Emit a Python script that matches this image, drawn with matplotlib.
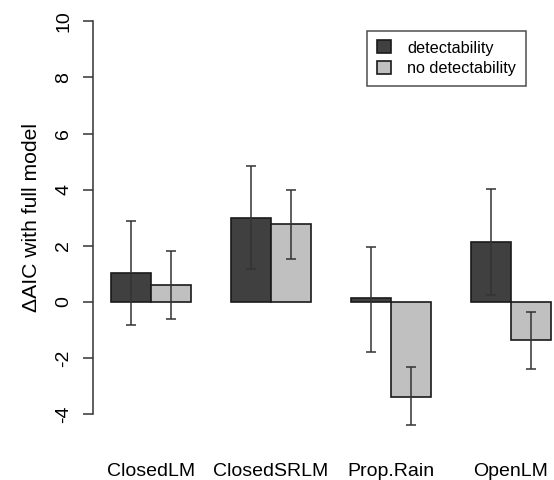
import matplotlib
matplotlib.use("Agg")
import matplotlib.pyplot as plt
import numpy as np

plt.rcParams['font.family'] = ['Liberation Sans', 'DejaVu Sans']

categories = ["ClosedLM", "ClosedSRLM", "Prop.Rain", "OpenLM"]
series_names = ["detectability", "no detectability"]
det_vals = [1.02, 2.97, 0.13, 2.12]
det_lo = [-0.82, 1.17, -1.78, 0.25]
det_hi = [2.89, 4.84, 1.97, 4.01]
nodet_vals = [0.61, 2.76, -3.38, -1.36]
nodet_lo = [-0.62, 1.51, -4.39, -2.38]
nodet_hi = [1.82, 3.97, -2.34, -0.36]
yticks = [-4, -2, 0, 2, 4, 6, 8, 10]

dark = "#404040"
light = "#c0c0c0"
W, H = 554, 480
fig = plt.figure(figsize=(W / 100, H / 100), dpi=100)
left, right = 93.4, 568.6
top, bottom = 5.6, 429.7
ax = fig.add_axes([left / W, 1 - bottom / H, (right - left) / W, (bottom - top) / H])

n = len(categories)
x_det = np.arange(n) * 3 + 1.5
x_nodet = x_det + 1
ax.bar(x_det, det_vals, width=1, color=dark, edgecolor="#1a1a1a", linewidth=1.2, label=series_names[0])
ax.bar(x_nodet, nodet_vals, width=1, color=light, edgecolor="#1a1a1a", linewidth=1.2, label=series_names[1])

for xs, vals, lo, hi in [(x_det, det_vals, det_lo, det_hi), (x_nodet, nodet_vals, nodet_lo, nodet_hi)]:
    v = np.array(vals)
    yerr = np.vstack([v - np.array(lo), np.array(hi) - v])
    ax.errorbar(xs, v, yerr=yerr, fmt="none", ecolor="#333333", elinewidth=1.1, capsize=3.4, capthick=1.1)

ax.set_xlim(0.56, 12.44)
ax.set_ylim(-4.56, 10.56)
for s in ["top", "right", "bottom"]:
    ax.spines[s].set_visible(False)
ax.spines["left"].set_bounds(-4, 10)
ax.spines["left"].set_color("#333333")
ax.spines["left"].set_linewidth(1.1)
ax.set_yticks(yticks)
ax.set_yticklabels([str(t) for t in yticks], rotation=90, va="center", fontsize=14)
ax.tick_params(axis="y", length=7.2, width=1.1, color="#333333", pad=8)
ax.set_xticks((x_det + x_nodet) / 2)
ax.set_xticklabels(categories, fontsize=14)
ax.tick_params(axis="x", length=0, pad=24)
ax.set_ylabel("ΔAIC with full model", fontsize=15.2, labelpad=10)

leg = ax.legend(loc="upper left", bbox_to_anchor=((367.3 - left) / (right - left), 1 - (30.7 - top) / (bottom - top)),
                fontsize=11.7, frameon=True, fancybox=False, edgecolor="#222222",
                handlelength=0.85, handleheight=0.85, handletextpad=1.0, labelspacing=0.35,
                borderpad=0.6, borderaxespad=0)
leg.get_frame().set_linewidth(1.1)

fig.savefig("out.png", dpi=100)
